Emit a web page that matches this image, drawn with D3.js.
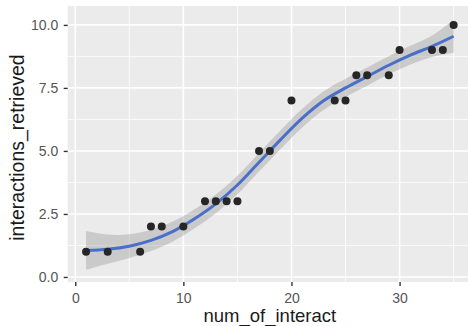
<!DOCTYPE html>
<html><head><meta charset="utf-8">
<script src="https://cdn.jsdelivr.net/npm/d3@7"></script>
<style>html,body{margin:0;padding:0;background:#fff;overflow:hidden}svg{display:block}</style>
</head><body>
<script>
// Observed data points
const numInteract = [1,3,6,7,8,10,12,13,14,15,17,18,20,24,25,26,27,29,30,33,34,35];
const retrieved   = [1,1,1,2,2,2,3,3,3,3,5,5,7,7,7,8,8,8,9,9,9,10];
// Loess smooth
const smoothX  = [1,3,5,7,9,11,13,15,17,19,21,23,25,27,29,31,33,35];
const smoothY  = [1.05,1.1,1.22,1.45,1.8,2.3,2.9,3.65,4.55,5.45,6.3,7.0,7.5,7.95,8.4,8.8,9.15,9.55];
const smoothLo = [0.28,0.52,0.75,1.03,1.4,1.92,2.53,3.28,4.18,5.08,5.93,6.63,7.14,7.59,8.04,8.43,8.73,8.9];
const smoothHi = [1.82,1.68,1.69,1.87,2.2,2.68,3.27,4.02,4.92,5.82,6.67,7.37,7.86,8.31,8.76,9.17,9.57,10.2];
const xTicks = [0,10,20,30];
const xMinor = [5,15,25,35];
const yTicks = [0,2.5,5,7.5,10];
const yMinor = [1.25,3.75,6.25,8.75];
const xTitle = "num_of_interact";
const yTitle = "interactions_retrieved";

const W = 468, H = 326;
const P = {l: 67.7, r: 472, t: 6, b: 282};
const svg = d3.select("body").append("svg").attr("width", W).attr("height", H);
const x = d3.scaleLinear().domain([-0.7, 36.7]).range([P.l, P.r]);
const y = d3.scaleLinear().domain([-0.2, 10.75]).range([P.b, P.t]);
const font = "'Liberation Sans', Arial, sans-serif";

svg.append("defs").append("clipPath").attr("id","clip")
  .append("rect").attr("x",P.l).attr("y",P.t).attr("width",P.r-P.l).attr("height",P.b-P.t);

svg.append("rect").attr("x",P.l).attr("y",P.t).attr("width",P.r-P.l).attr("height",P.b-P.t).attr("fill","#EBEBEB");

const grid = svg.append("g").attr("clip-path","url(#clip)");
grid.selectAll(".xm").data(xMinor).join("line")
  .attr("x1",d=>x(d)).attr("x2",d=>x(d)).attr("y1",P.t).attr("y2",P.b)
  .attr("stroke","#fff").attr("stroke-width",0.8);
grid.selectAll(".ym").data(yMinor).join("line")
  .attr("y1",d=>y(d)).attr("y2",d=>y(d)).attr("x1",P.l).attr("x2",P.r)
  .attr("stroke","#fff").attr("stroke-width",0.8);
grid.selectAll(".xg").data(xTicks).join("line")
  .attr("x1",d=>x(d)).attr("x2",d=>x(d)).attr("y1",P.t).attr("y2",P.b)
  .attr("stroke","#fff").attr("stroke-width",1.6);
grid.selectAll(".yg").data(yTicks).join("line")
  .attr("y1",d=>y(d)).attr("y2",d=>y(d)).attr("x1",P.l).attr("x2",P.r)
  .attr("stroke","#fff").attr("stroke-width",1.6);

const plot = svg.append("g").attr("clip-path","url(#clip)");
const band = smoothX.map((d,i)=>({x:d, lo:smoothLo[i], hi:smoothHi[i], y:smoothY[i]}));
plot.append("path").datum(band)
  .attr("d", d3.area().x(d=>x(d.x)).y0(d=>y(d.lo)).y1(d=>y(d.hi)).curve(d3.curveCatmullRom))
  .attr("fill","#999999").attr("fill-opacity",0.4);
plot.append("path").datum(band)
  .attr("d", d3.line().x(d=>x(d.x)).y(d=>y(d.y)).curve(d3.curveCatmullRom))
  .attr("fill","none").attr("stroke","#4a6fc8").attr("stroke-width",3);
plot.selectAll("circle").data(numInteract.map((d,i)=>[d,retrieved[i]])).join("circle")
  .attr("cx",d=>x(d[0])).attr("cy",d=>y(d[1])).attr("r",4).attr("fill","#262626");

// axes
const xAxis = svg.append("g").attr("transform",`translate(0,${P.b})`)
  .call(d3.axisBottom(x).tickValues(xTicks).tickSize(4).tickFormat(d3.format("d")));
const yAxis = svg.append("g").attr("transform",`translate(${P.l},0)`)
  .call(d3.axisLeft(y).tickValues(yTicks).tickSize(4).tickPadding(5.5).tickFormat(d3.format(".1f")));
[xAxis,yAxis].forEach(a=>{
  a.select(".domain").remove();
  a.selectAll(".tick line").attr("stroke","#333").attr("stroke-width",1.4);
  a.selectAll(".tick text").attr("fill","#555").attr("font-family",font).attr("font-size",14);
});
xAxis.selectAll(".tick text").attr("dy",null).attr("y",21.3);

svg.append("text").attr("x",(P.l+P.r)/2).attr("y",321.8).attr("text-anchor","middle")
  .attr("font-family",font).attr("font-size",18.5).attr("fill","#1a1a1a").text(xTitle);
svg.append("text").attr("transform","translate(23.5,147.5) rotate(-90)").attr("text-anchor","middle")
  .attr("font-family",font).attr("font-size",19.5).attr("fill","#1a1a1a").text(yTitle);
</script>
</body></html>
